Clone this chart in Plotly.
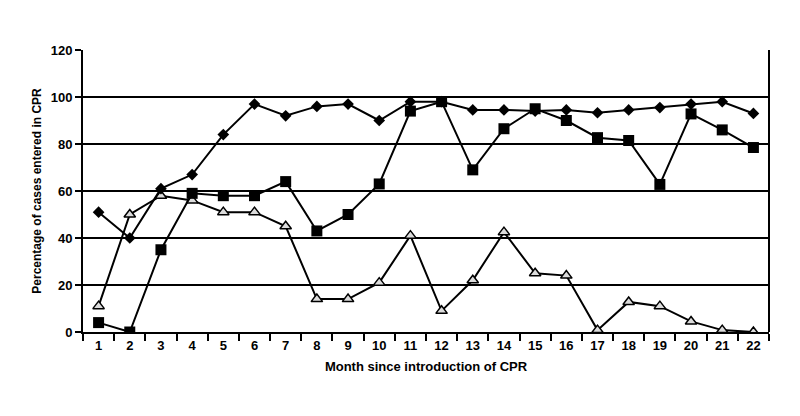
import plotly.graph_objects as go

# Month since introduction of CPR
months = [str(m) for m in range(1, 23)]

# Percentage of cases entered in CPR, three series
diamond_pct = [51, 40, 61, 67, 84, 97, 92, 96, 97, 90, 98, 98,
               94.5, 94.5, 94, 94.5, 93.3, 94.5, 95.5, 97, 98, 93]
square_pct = [4, 0, 35, 59, 58, 58, 64, 43, 50, 63, 94, 98,
              69, 86.5, 95, 90, 82.7, 81.5, 62.8, 92.8, 86, 78.5]
triangle_pct = [11, 50, 58, 56, 51, 51, 45, 14, 14, 21, 41, 9,
                22, 42.5, 25, 24, 0.8, 12.8, 11, 4.5, 0.8, 0]

fig = go.Figure()

# Lines first, then markers on top
fig.add_trace(go.Scatter(
    x=months, y=triangle_pct, mode="lines+markers", name="triangle",
    line={"color": "black", "width": 2},
    marker={"symbol": "triangle-up", "size": 10, "color": "#dcdcdc",
            "line": {"color": "black", "width": 1.5}},
))
fig.add_trace(go.Scatter(
    x=months, y=square_pct, mode="lines+markers", name="square",
    line={"color": "black", "width": 2},
    marker={"symbol": "square", "size": 11, "color": "black"},
))
fig.add_trace(go.Scatter(
    x=months, y=diamond_pct, mode="lines+markers", name="diamond",
    line={"color": "black", "width": 2},
    marker={"symbol": "diamond", "size": 9, "color": "black"},
))

font = {"family": "Liberation Sans, Arial, sans-serif", "color": "black", "weight": "bold"}

# the page body adds 8px, so margins are shifted to keep the plot area in place
fig.update_layout(
    width=800, height=416,
    margin={"l": 75, "r": 39, "t": 42, "b": 92, "autoexpand": False},
    paper_bgcolor="white", plot_bgcolor="white",
    showlegend=False,
    font={**font, "size": 12},
)

fig.update_xaxes(
    type="category", range=[-0.5, 21.5], automargin=False,
    showline=True, linecolor="black", linewidth=2,
    mirror=False, showgrid=False,
    ticks="outside", tickson="boundaries", ticklen=7, tickcolor="black", tickwidth=1.5,
    tickfont={**font, "size": 13},
    title={"text": "Month since introduction of CPR", "font": {**font, "size": 13},
           "standoff": 10},
)
fig.update_yaxes(
    range=[0, 120], dtick=20, automargin=False,
    showline=True, linecolor="black", linewidth=2,
    showgrid=True, gridcolor="black", gridwidth=1.5,
    zeroline=False,
    ticks="outside", ticklen=6, tickcolor="black", tickwidth=1.5,
    tickfont={**font, "size": 13},
    title={"text": "Percentage of cases entered in CPR", "font": {**font, "size": 12},
           "standoff": 6},
)

# right border of the plot area
fig.add_shape(type="line", xref="paper", yref="paper", x0=1, x1=1, y0=0, y1=1,
              line={"color": "black", "width": 2})

fig.write_html("out.html")
